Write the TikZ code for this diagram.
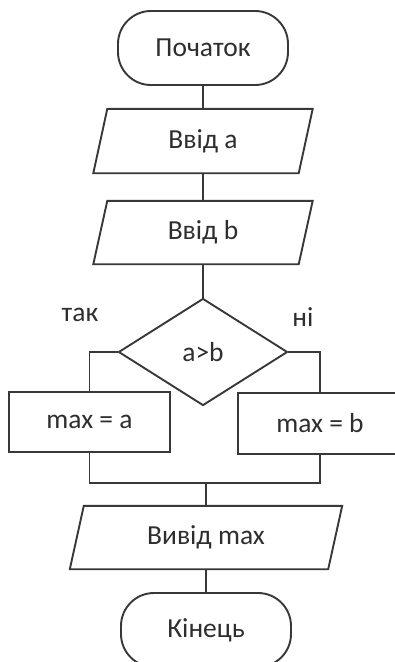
\documentclass[tikz,border=0pt]{standalone}
\usepackage{fontspec}
\setmainfont{Carlito}
\usetikzlibrary{shapes.geometric,calc}
\definecolor{ln}{HTML}{383838}
\definecolor{tx}{HTML}{2E2E2E}
\newcommand\drawpara[2]{%
  \draw[line] ($(#1.north west)+(#2,0)$) -- ($(#1.north east)+(#2,0)$)
    -- ($(#1.south east)+(-#2,0)$) -- ($(#1.south west)+(-#2,0)$) -- cycle;}
\begin{document}
\begin{tikzpicture}[x=1pt,y=-1pt,
  every node/.style={font=\fontsize{27.5}{32}\selectfont, text=tx},
  line/.style={draw=ln, line width=1.9pt},
  term/.style={rectangle, rounded corners=33pt, draw=ln, line width=1.9pt,
    minimum width=170pt, minimum height=74pt, inner sep=0pt},
  iobox/.style={rectangle, inner sep=0pt},
  proc/.style={rectangle, draw=ln, line width=1.9pt, inner sep=0pt},
  decision/.style={diamond, draw=ln, line width=1.9pt, minimum width=169pt,
    minimum height=107pt, inner sep=0pt}]
\clip (0,0) rectangle (395,662);
\node[term] (start) at (203,48) {Початок};
\node[iobox, minimum width=205pt, minimum height=64pt] (in1) at (203,141) {Ввід a};
\drawpara{in1}{7}
\node[iobox, minimum width=205pt, minimum height=63pt] (in2) at (203,232.5) {Ввід b};
\drawpara{in2}{7}
\node[decision] (dec) at (203,352) {a>b};
\node[proc, minimum width=161pt, minimum height=60pt] (boxa) at (89.5,422) {max = a};
\node[proc, minimum width=164pt, minimum height=61pt] (boxb) at (320,423.5) {max = b};
\coordinate (mg) at (206,483);
\node[iobox, minimum width=258pt, minimum height=63pt] (out) at (206,537.5) {Вивід max};
\drawpara{out}{7}
\node[term] (end) at (206,630) {Кінець};
\node (yes) at (80,315) {так};
\node (no) at (303,317) {ні};
\draw[line] (start.south) -- (in1.north);
\draw[line] (in1.south) -- (in2.north);
\draw[line] (in2.south) -- (dec.north);
\draw[line] (dec.west) -| (boxa.north);
\draw[line] (dec.east) -| (boxb.north);
\draw[line] (boxa.south) |- (mg) -| (boxb.south);
\draw[line] (mg) -- (out.north);
\draw[line] (out.south) -- (end.north);
\end{tikzpicture}
\end{document}
